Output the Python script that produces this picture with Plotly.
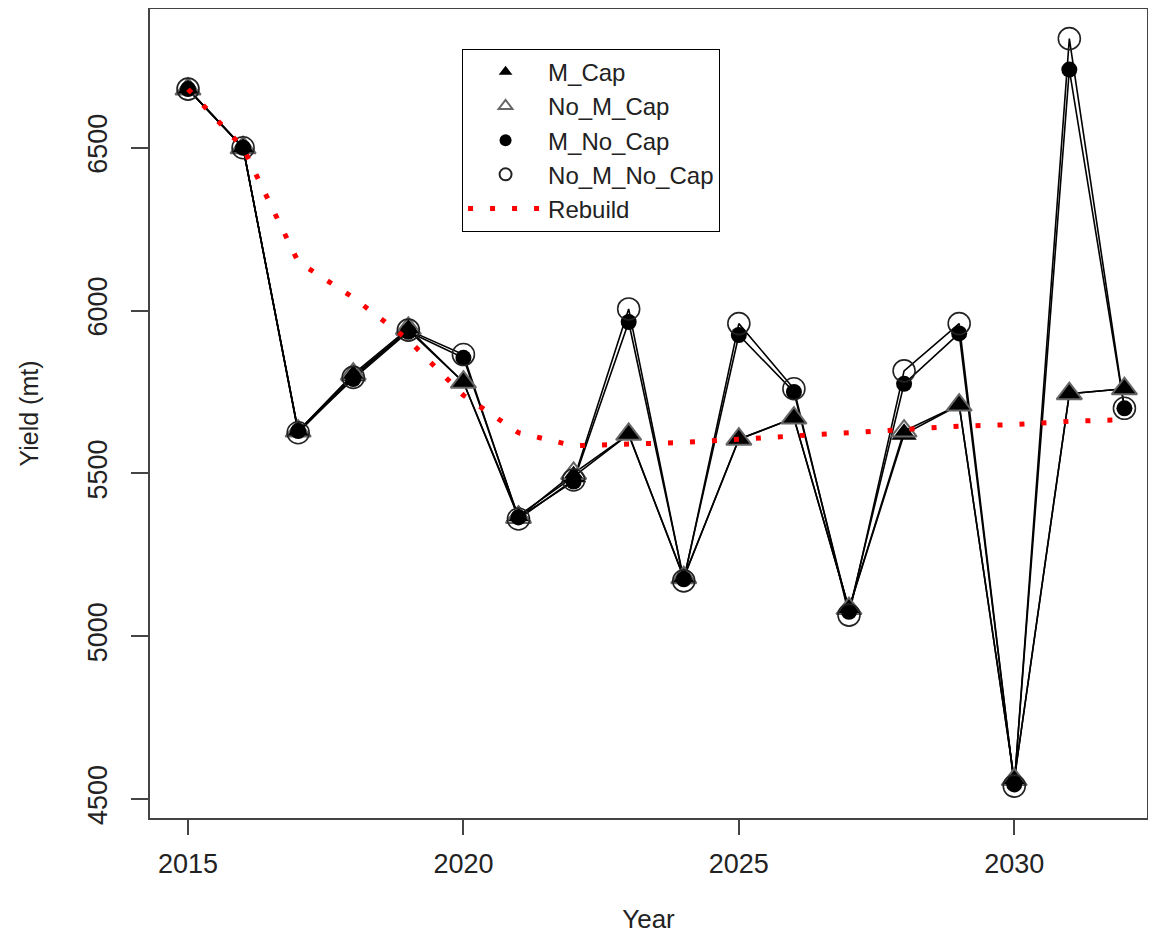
import plotly.graph_objects as go

years = list(range(2015, 2033))

m_cap = [6680, 6500, 5630, 5800, 5940, 5780, 5370, 5490, 5620, 5180,
         5605, 5670, 5085, 5620, 5710, 4560, 5745, 5760]
no_m_cap = [6680, 6500, 5630, 5805, 5945, 5780, 5365, 5500, 5620, 5180,
            5605, 5670, 5085, 5630, 5710, 4560, 5745, 5760]
m_no_cap = [6680, 6500, 5630, 5790, 5935, 5855, 5365, 5475, 5965, 5175,
            5925, 5750, 5075, 5775, 5930, 4545, 6740, 5700]
no_m_no_cap = [6680, 6500, 5625, 5795, 5940, 5865, 5360, 5480, 6005, 5170,
               5960, 5760, 5065, 5815, 5960, 4540, 6835, 5700]
rebuild = [6680, 6500, 6150, 6040, 5910, 5740, 5625, 5585, 5590, 5595,
           5605, 5615, 5625, 5635, 5645, 5650, 5660, 5665]

x_ticks = [2015, 2020, 2025, 2030]
y_ticks = [4500, 5000, 5500, 6000, 6500]

FONT = "Liberation Sans, Arial, sans-serif"
TXT = "#222222"

fig = go.Figure()

series = [
    ("M_Cap", m_cap, dict(symbol="triangle-up", size=22, color="black",
                          line=dict(width=0))),
    ("No_M_Cap", no_m_cap, dict(symbol="triangle-up-open", size=22,
                                color="#666666", line=dict(width=2))),
    ("M_No_Cap", m_no_cap, dict(symbol="circle", size=16, color="black",
                                line=dict(width=0))),
    ("No_M_No_Cap", no_m_no_cap, dict(symbol="circle-open", size=22,
                                      color="#222222", line=dict(width=1.6))),
]

# connecting lines (black), no legend
for name, vals, _ in series:
    fig.add_trace(go.Scatter(x=years, y=vals, mode="lines",
                             line=dict(color="black", width=1.6),
                             showlegend=False, hoverinfo="skip"))

# markers with legend
for name, vals, mk in series:
    fig.add_trace(go.Scatter(x=years, y=vals, mode="markers", name=name,
                             marker=mk))

fig.add_trace(go.Scatter(x=years, y=rebuild, mode="lines", name="Rebuild",
                         line=dict(color="red", width=5, dash="5px,17px")))

fig.update_layout(
    width=1140, height=926,
    margin=dict(l=142, r=1, t=1, b=116),
    plot_bgcolor="white", paper_bgcolor="white",
    font=dict(family=FONT, size=26, color=TXT),
    legend=dict(
        x=0.313, y=0.951, xanchor="left", yanchor="top",
        bordercolor="black", borderwidth=1, bgcolor="white",
        font=dict(family=FONT, size=24, color=TXT),
        itemsizing="constant", itemwidth=75, tracegroupgap=0,
    ),
    xaxis=dict(
        range=[2014.31, 2032.41], tickvals=x_ticks,
        showgrid=False, zeroline=False, automargin=False,
        showline=True, linecolor="#444444", linewidth=1.5, mirror=True,
        ticks="outside", ticklen=15, tickcolor="#444444", tickwidth=1.5,
        ticklabelstandoff=6,
        title=dict(text="Year", standoff=37,
                   font=dict(family=FONT, size=26, color=TXT)),
        tickfont=dict(family=FONT, size=27, color=TXT),
    ),
    yaxis=dict(
        range=[4442, 6926], tickvals=y_ticks,
        showgrid=False, zeroline=False, automargin=False,
        showline=True, linecolor="#444444", linewidth=1.5, mirror=True,
        ticks="outside", ticklen=17, tickcolor="#444444", tickwidth=1.5,
        tickangle=-90, ticklabelstandoff=13,
        title=dict(text="Yield (mt)", standoff=38,
                   font=dict(family=FONT, size=25, color=TXT)),
        tickfont=dict(family=FONT, size=27, color=TXT),
    ),
)

fig.write_html("out.html")
